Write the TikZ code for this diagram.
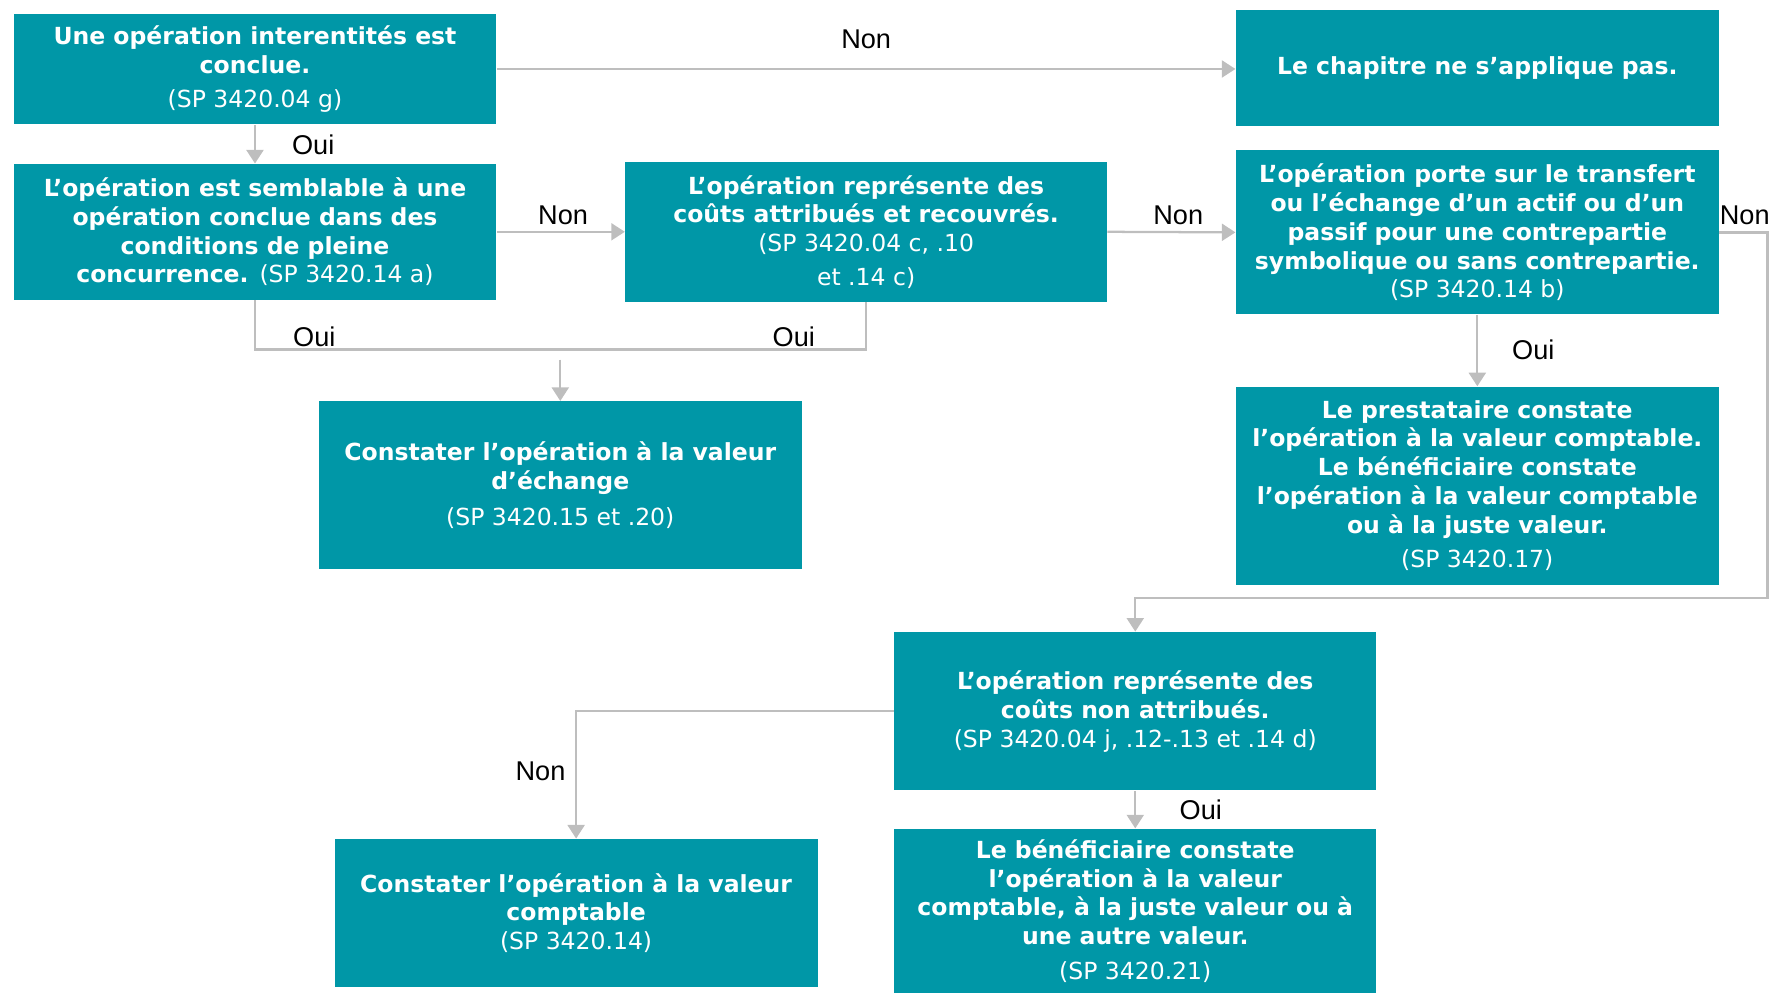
\documentclass[tikz,border=0pt]{standalone}
\usepackage{fontspec}
\setmainfont{DejaVu Sans}
\newfontfamily\labfont{Liberation Sans}
\usetikzlibrary{arrows.meta}
\definecolor{boxteal}{RGB}{0,151,167}
\definecolor{linkgray}{RGB}{190,190,190}
\begin{document}
\begin{tikzpicture}[x=0.5pt,y=-0.5pt,
  box/.style={fill=boxteal, text=white, align=center, inner sep=2pt,
    font=\fontsize{10.4}{12.75}\selectfont\bfseries},
  link/.style={draw=linkgray, line width=1pt},
  arr/.style={link, -{Triangle[length=6pt,width=7.5pt]}},
  lab/.style={font=\labfont\fontsize{12}{14}\selectfont, text=black, inner sep=0pt}]
\useasboundingbox (0,0) rectangle (1568,878);

\node[box, minimum width=213.5pt, minimum height=49pt] (b1) at (225.5,61)
  {Une opération interentités est\\ conclue.\\[2.5pt] {\mdseries (SP 3420.04 g)}};
\node[box, minimum width=213.5pt, minimum height=60pt] (b2) at (225.5,205)
  {L’opération est semblable à une\\ opération conclue dans des\\ conditions de pleine\\ concurrence. {\mdseries (SP 3420.14 a)}};
\node[box, minimum width=213pt, minimum height=62pt] (b3) at (766,205)
  {L’opération représente des\\ coûts attribués et recouvrés.\\ {\mdseries (SP 3420.04 c, .10}\\[2pt] {\mdseries et .14 c)}};
\node[box, minimum width=213.5pt, minimum height=51pt] (b4) at (1306.5,60)
  {Le chapitre ne s’applique pas.};
\node[box, minimum width=213.5pt, minimum height=72.5pt] (b5) at (1306.5,205.5)
  {L’opération porte sur le transfert\\ ou l’échange d’un actif ou d’un\\ passif pour une contrepartie\\ symbolique ou sans contrepartie.\\ {\mdseries (SP 3420.14 b)}};
\node[box, minimum width=213.5pt, minimum height=74pt] (b6) at (495.5,429)
  {Constater l’opération à la valeur\\ d’échange\\[3pt] {\mdseries (SP 3420.15 et .20)}};
\node[box, minimum width=213.5pt, minimum height=87.5pt] (b7) at (1306.5,429.5)
  {Le prestataire constate\\ l’opération à la valeur comptable.\\ Le bénéficiaire constate\\ l’opération à la valeur comptable\\ ou à la juste valeur.\\[2.5pt] {\mdseries (SP 3420.17)}};
\node[box, minimum width=213pt, minimum height=70pt] (b8) at (1004,629)
  {L’opération représente des\\ coûts non attribués.\\ {\mdseries (SP 3420.04 j, .12-.13 et .14 d)}};
\node[box, minimum width=213.5pt, minimum height=65.5pt] (b9) at (509.5,807.5)
  {Constater l’opération à la valeur\\ comptable\\ {\mdseries (SP 3420.14)}};
\node[box, minimum width=213pt, minimum height=72.5pt] (b10) at (1004,805.5)
  {Le bénéficiaire constate\\ l’opération à la valeur\\ comptable, à la juste valeur ou à\\ une autre valeur.\\[2.5pt] {\mdseries (SP 3420.21)}};

% connectors
\draw[arr] (b1.east) -- (b1.east -| b4.west);
\draw[arr] (b1.south) -- (b2.north);
\draw[arr] (b2.east) -- (b3.west);
\draw[arr] (b3.east) -- (b5.west);
\coordinate (merge) at (495.5,309);
\coordinate (mergeout) at (495.5,318);
\draw[link] (b2.south) |- (merge) -| (b3.south);
\draw[arr] (mergeout) -- (b6.north);
\draw[arr] (b5.south) -- (b7.north);
\coordinate (r1) at (1563,205.5);
\coordinate (r2) at (1563,529);
\coordinate (r3) at (1004,529);
\draw[arr] (b5.east) -- (r1) -- (r2) -- (r3) -- (b8.north);
\draw[arr] (b8.west) -| (b9.north);
\draw[arr] (b8.south) -- (b10.north);

% labels
\node[lab] (l1) at (766,35) {Non};
\node[lab] (l2) at (277,128) {Oui};
\node[lab] (l3) at (498,190) {Non};
\node[lab] (l4) at (1042,190) {Non};
\node[lab] (l5) at (278,298) {Oui};
\node[lab] (l6) at (702,298) {Oui};
\node[lab] (l7) at (1356,309) {Oui};
\node[lab] (l8) at (1543,190) {Non};
\node[lab] (l9) at (478,682) {Non};
\node[lab] (l10) at (1062,716) {Oui};
\end{tikzpicture}
\end{document}
